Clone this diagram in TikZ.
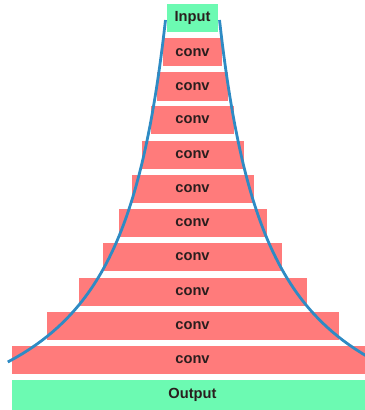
\documentclass[tikz,border=0pt]{standalone}
\usepackage{fontspec}
\setsansfont{Liberation Sans}
\usepackage{xcolor}
\usetikzlibrary{calc}
\definecolor{ink}{HTML}{2A1E1E}
\definecolor{convred}{HTML}{FF7B7B}
\definecolor{iogreen}{HTML}{6CFAB2}
\definecolor{funnel}{HTML}{2E8BC4}

\begin{document}
\begin{tikzpicture}[
    x=0.75pt, y=-0.75pt,
    font=\sffamily\bfseries\fontsize{11}{13}\selectfont,
    layer/.style={fill=convred, text=ink, inner sep=0pt, minimum height=21pt},
    io/.style={fill=iogreen, text=ink, inner sep=0pt},
    curve/.style={draw=funnel, line width=2.1pt}
]

% Frame: 364 x 410 px, y grows downward.
\useasboundingbox (0,0) rectangle (364,410);
\def\cx{192.5}

% Input block.
\node[io, minimum width=38.25pt, minimum height=21pt] (in) at (\cx,18) {Input};

% Conv stack: row / centre y / half width (px).
\foreach \i/\y/\hw in {1/52.5/29.5, 2/86.5/35.5, 3/120/41.5, 4/154.5/51,
                      5/188.5/61, 6/223/74, 7/257/89.5, 8/292/114,
                      9/325.5/146, 10/360/181} {
    \node[layer, minimum width=\hw*1.5pt] (c\i) at (\cx,\y) {conv};
}

% Output block.
\node[io, minimum width=271.5pt, minimum height=22.5pt] (out) at (\cx,395) {Output};

% Funnel outline: half width grows like 1/(472-y), mirrored about the centre.
\foreach \s in {1,-1} {
    \draw[curve, shift={(\cx,0)}, xscale=\s] plot[domain=20:362, samples=80, variable=\t]
        ({23.7-229.25/((472-\t)/100)}, \t);
}

\end{tikzpicture}
\end{document}
